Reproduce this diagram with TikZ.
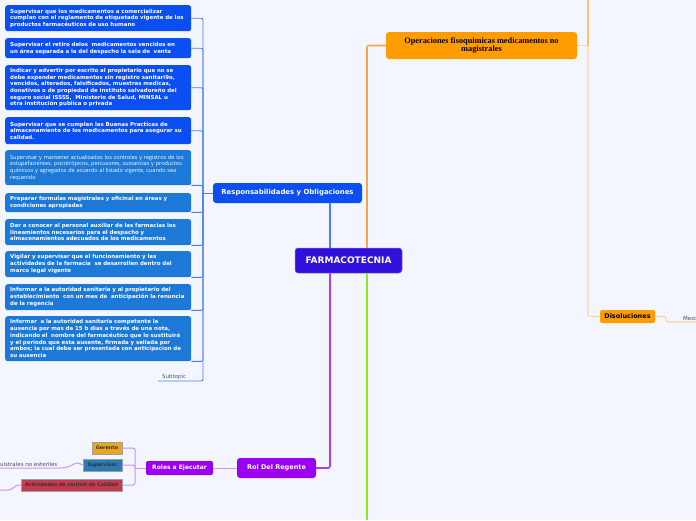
\documentclass[tikz,border=0pt]{standalone}
\usepackage{fontspec}
\setmainfont{DejaVu Sans}
\newfontfamily\opensansfont{Open Sans}
\newfontfamily\timesfont{Liberation Serif}
\definecolor{bgcol}{HTML}{F3F6FE}
\definecolor{farmacol}{HTML}{3210DC}
\definecolor{resbluecol}{HTML}{0B4FF2}
\definecolor{resblueBcol}{HTML}{1C79D8}
\definecolor{reslinecol}{HTML}{4A7FF0}
\definecolor{orfillcol}{HTML}{FF9C00}
\definecolor{orlinecol}{HTML}{F7A73E}
\definecolor{orlightcol}{HTML}{FAD7A2}
\definecolor{grlinecol}{HTML}{8BEA1E}
\definecolor{purfillcol}{HTML}{9A00F0}
\definecolor{purlinecol}{HTML}{AD3CF0}
\definecolor{purlightcol}{HTML}{CF92F2}
\definecolor{gerfillcol}{HTML}{E8A623}
\definecolor{supfillcol}{HTML}{2A7CB5}
\definecolor{actfillcol}{HTML}{C43A4F}
\tikzset{
  topic/.style={rounded corners=3pt, inner sep=0pt, align=center, text=white},
  resbox/.style={rounded corners=2.5pt, fill=resbluecol, text=white, anchor=north west,
    align=left, text width=176pt, inner xsep=5pt, inner ysep=0pt,
    font=\fontsize{5.45}{6.7}\selectfont\bfseries},
  rolebox/.style={draw=gray!75, line width=0.7pt, inner sep=0pt,
    font=\fontsize{4.9}{6}\selectfont\bfseries, text=black!80},
  resline/.style={draw=reslinecol, line width=0.9pt, rounded corners=2pt},
  orline/.style={draw=orlinecol, line width=1.6pt, rounded corners=2pt},
  orlight/.style={draw=orlightcol, line width=1.2pt, rounded corners=2pt},
  puline/.style={draw=purlinecol, line width=1.6pt, rounded corners=2pt},
  pulight/.style={draw=purlightcol, line width=1pt, rounded corners=2pt},
  leaf/.style={inner xsep=0pt, inner ysep=1.5pt, font=\fontsize{5.5}{6.5}\selectfont, text=black!70}
}
\begin{document}
\begin{tikzpicture}[x=1pt,y=-1pt]
\fill[bgcol](0,0)rectangle(696,520);
\useasboundingbox(0,0)rectangle(696,520);
%main topics
\node[topic,fill=farmacol,draw=farmacol!60!white,line width=0.5pt,minimum width=107pt,minimum height=25pt,font=\fontsize{9}{10}\selectfont\bfseries](cent)at(348.5,260.5){FARMACOTECNIA};
\node[topic,fill=resbluecol,minimum width=149pt,minimum height=20pt,font=\fontsize{6.9}{8}\selectfont\bfseries](resp)at(287.5,193){Responsabilidades y Obligaciones};
\node[topic,fill=orfillcol,text=black,minimum width=191pt,minimum height=27pt,font=\timesfont\fontsize{8.3}{8.6}\selectfont\bfseries](oper)at(481.5,45.5){Operaciones fisoquimicas medicamentos no\\magistrales};
\node[topic,fill=orfillcol,text=black,rounded corners=2pt,minimum width=55pt,minimum height=13pt,font=\fontsize{6.5}{8}\selectfont\bfseries](disol)at(627.5,316.5){Disoluciones};
\node[topic,fill=purfillcol,minimum width=79pt,minimum height=20pt,font=\fontsize{6.5}{8}\selectfont\bfseries](rol)at(276.5,468){Rol Del Regente};
\node[topic,fill=purfillcol,rounded corners=2pt,minimum width=67pt,minimum height=14pt,font=\fontsize{6}{8}\selectfont\bfseries](roles)at(179.5,468){Roles a Ejecutar};
%roles
\node[rolebox,fill=gerfillcol,minimum width=30pt,minimum height=12pt](ger)at(107,448){Gerente};
\node[rolebox,fill=supfillcol,minimum width=39pt,minimum height=12pt](sup)at(102.5,465){Supervisor};
\node[rolebox,fill=actfillcol,minimum width=101pt,minimum height=12pt](act)at(71.5,485){Actividades de control de Calidad};
\node[leaf,anchor=south west](magis)at(0,468){uistrales no esteriles};
\coordinate(actend)at(0,490);
%responsabilidades
\node[resbox,minimum height=26pt](b1)at(5,5){Supervisar que los medicamentos a comercializar\\cumplan con el reglamento de etiquetado vigente de los\\productos farmacéuticos de uso humano};
\node[resbox,minimum height=20pt](b2)at(5,38){Supervisar el retiro delos\ \ medicamentos vencidos en\\un área separada a la del despacho la sala de\ \ venta};
\node[resbox,minimum height=45pt](b3)at(5,65){Indicar y advertir por escrito al propietario que no se\\debe expender medicamentos sin registro sanitari9o,\\vencidos, alterados, falsificados, muestras medicas,\\donativos o de propiedad de instituto salvadoreño del\\seguro social ISSSS,\ \ Ministerio de Salud, MINSAL u\\otra institución publica o privada};
\node[resbox,minimum height=27pt](b4)at(5,117){Supervisar que se cumplan las Buenas Practicas de\\almacenamiento de los medicamentos para asegurar su\\calidad.};
\node[resbox,fill=resblueBcol,minimum height=35pt,font=\opensansfont\fontsize{5.5}{6.7}\selectfont](b5)at(5,150){Supervisar y mantener actualizados los controles y registros de los\\estupefacientes, psicotrópicos, percusores, sustancias y productos\\químicos y agregados de acuerdo al listado vigente, cuando sea\\requerido};
\node[resbox,fill=resblueBcol,minimum height=19pt](b6)at(5,193){Preparar formulas magistrales y oficinal en áreas y\\condiciones apropiadas};
\node[resbox,fill=resblueBcol,minimum height=26pt](b7)at(5,219){Dar a conocer al personal auxiliar de las farmacias los\\lineamientos necesarios para el despacho y\\almacenamientos adecuados de los medicamentos};
\node[resbox,fill=resblueBcol,minimum height=26pt](b8)at(5,251){Vigilar y supervisar que el funcionamiento y las\\actividades de la farmacia\ \ se desarrollen dentro del\\marco legal vigente};
\node[resbox,fill=resblueBcol,minimum height=26pt](b9)at(5,284){Informar a la autoridad sanitaria y al propietario del\\establecimiento\ \ con un mes de\ \ anticipación la renuncia\\de la regencia};
\node[resbox,fill=resblueBcol,minimum height=45pt](b10)at(5,316){Informar\ \ a la autoridad sanitaria competente la\\ausencia por mas de 15 b dias a través de una nota,\\indicando el\ \ nombre del farmacéutico que lo sustituirá\\y el periodo que esta ausente, firmada y sellada por\\ambos; la cual debe ser presentada con anticipacion de\\su ausencia};
\node[leaf,anchor=south west,inner xsep=4pt,text=black!65](sub)at(158,381){Subtopic};
\coordinate(trunk)at(203,193);
%connectors
\coordinate(stemL)at(330,260);
\coordinate(stemR)at(367,260);
\draw[draw=reslinecol,line width=1.2pt](cent.north-|stemL)--(resp.south-|stemL);
\draw[orline](cent.north-|stemR)|-(oper.west);
\draw[draw=grlinecol,line width=1.8pt](cent.south-|stemR)--(stemR|-actend);
\draw[grlinecol,line width=1.8pt](stemR|-actend)--++(0,30);
\draw[puline](cent.south-|stemL)|-(rol.east);
\draw[pulight](rol.west)--(roles.east);
\draw[resline](resp.west)--(trunk);
\foreach \i in {1,...,4}\draw[resline](trunk)|-(b\i.east);
\foreach \i in {5,...,10}\draw[resline](trunk)|-(b\i.south east);
\draw[resline](trunk)|-(sub.south west);
\coordinate(rtr)at(135,468);
\draw[pulight](roles.west)--(rtr);
\foreach \n in {ger,sup,act}\draw[pulight](rtr)|-(\n.east);
\draw[pulight](sup.west)..controls(72,459)and(76,468)..(magis.south east)--(magis.south west);
\draw[pulight](act.west)..controls(13,485)and(14,490)..(6,490)--(actend);
%right side
\coordinate(rtop)at(588,0);
\coordinate(mezcend)at(696,322);
\draw[orlight](oper.east)--(oper.east-|rtop);
\draw[orlight](rtop)|-(disol.west);
\draw[draw=orlinecol!70,line width=1.2pt](rtop)--(oper.east-|rtop);
\node[leaf,anchor=south west,inner xsep=0pt](mezc)at(683,322){Mezc};
\draw[orlight](disol.east)--(666,316.5)|-(mezcend);
\end{tikzpicture}
\end{document}
